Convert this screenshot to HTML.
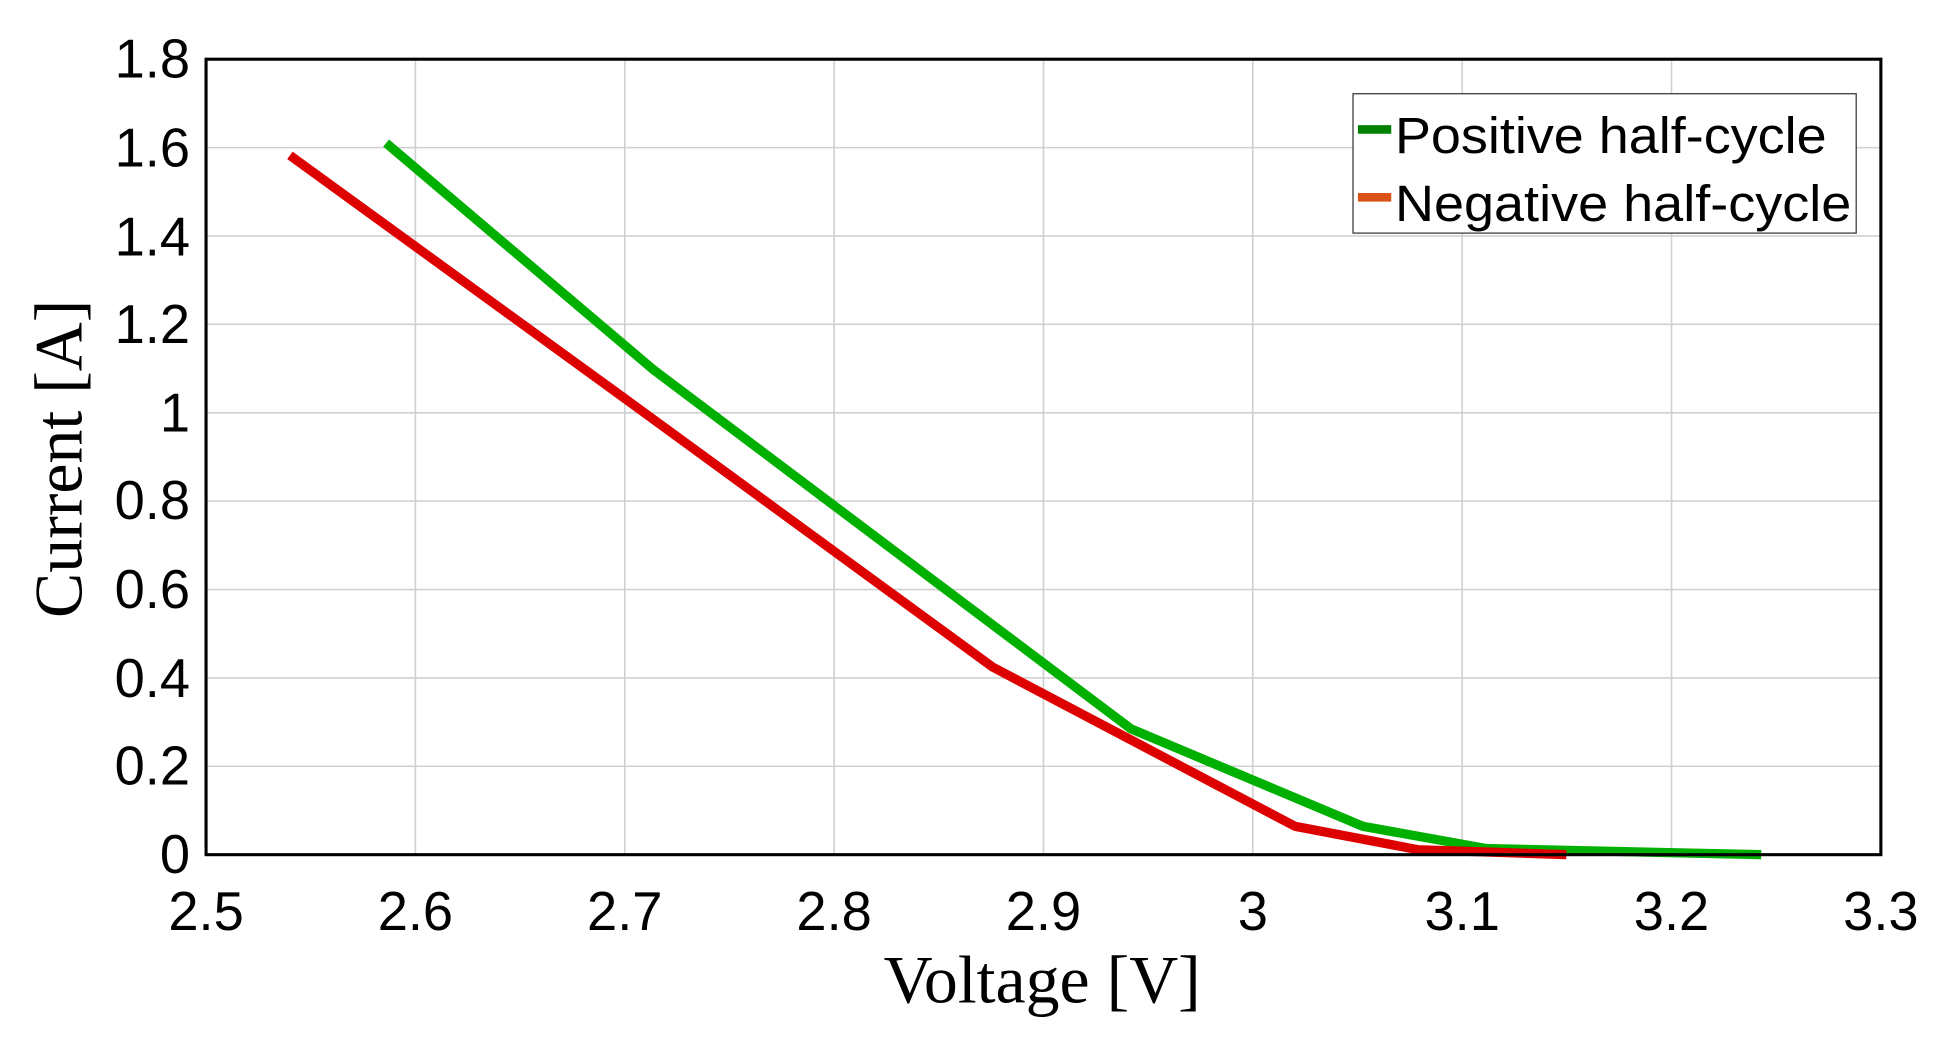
<!DOCTYPE html>
<html><head><style>html,body{margin:0;padding:0;background:#fff}svg{display:block}</style></head>
<body>
<svg width="1934" height="1052" viewBox="0 0 1568 853" xmlns="http://www.w3.org/2000/svg">
<rect width="1568" height="853" fill="#fff"/>
<g stroke="#d0d0d0" stroke-width="1.3">
<line x1="336.75" y1="48" x2="336.75" y2="693"/><line x1="506.5" y1="48" x2="506.5" y2="693"/>
<line x1="676.25" y1="48" x2="676.25" y2="693"/><line x1="846" y1="48" x2="846" y2="693"/>
<line x1="1015.75" y1="48" x2="1015.75" y2="693"/><line x1="1185.5" y1="48" x2="1185.5" y2="693"/>
<line x1="1355.25" y1="48" x2="1355.25" y2="693"/>
<line x1="167" y1="621.3" x2="1525" y2="621.3"/><line x1="167" y1="549.7" x2="1525" y2="549.7"/>
<line x1="167" y1="478" x2="1525" y2="478"/><line x1="167" y1="406.3" x2="1525" y2="406.3"/>
<line x1="167" y1="334.7" x2="1525" y2="334.7"/><line x1="167" y1="263" x2="1525" y2="263"/>
<line x1="167" y1="191.3" x2="1525" y2="191.3"/><line x1="167" y1="119.7" x2="1525" y2="119.7"/>
</g>
<polyline fill="none" stroke="#00b000" stroke-width="7.5" stroke-linejoin="round" points="313,116 530,300 917,591 1105,670 1205,688 1428,693"/>
<polyline fill="none" stroke="#dd0000" stroke-width="7.5" stroke-linejoin="round" points="235,126 505,322 805,541 1050,670 1150,689 1270,693"/>
<rect x="167" y="48" width="1358" height="645" fill="none" stroke="#000" stroke-width="2.5"/>
<g font-family="Liberation Sans, Arial, sans-serif" font-size="44" fill="#000">
<g text-anchor="end">
<text x="154" y="708">0</text><text x="154" y="636">0.2</text><text x="154" y="565">0.4</text>
<text x="154" y="493">0.6</text><text x="154" y="421">0.8</text><text x="154" y="350">1</text>
<text x="154" y="278">1.2</text><text x="154" y="207">1.4</text><text x="154" y="135">1.6</text>
<text x="154" y="63">1.8</text></g>
<g text-anchor="middle">
<text x="167" y="754">2.5</text><text x="336.75" y="754">2.6</text><text x="506.5" y="754">2.7</text>
<text x="676.25" y="754">2.8</text><text x="846" y="754">2.9</text><text x="1015.75" y="754">3</text>
<text x="1185.5" y="754">3.1</text><text x="1355.25" y="754">3.2</text><text x="1525" y="754">3.3</text></g>
</g>
<text x="845" y="813" text-anchor="middle" font-family="Liberation Serif, serif" font-size="55">Voltage [V]</text>
<text transform="translate(66,372) rotate(-90)" text-anchor="middle" font-family="Liberation Serif, serif" font-size="55">Current [A]</text>
<rect x="1097" y="76" width="408" height="113" fill="#fff" stroke="#333" stroke-width="1"/>
<line x1="1101" y1="105" x2="1128" y2="105" stroke="#008000" stroke-width="7"/>
<line x1="1101" y1="160" x2="1128" y2="160" stroke="#d95319" stroke-width="7"/>
<g font-family="Liberation Sans, Arial, sans-serif" font-size="41" fill="#000">
<text x="1131" y="124" textLength="350" lengthAdjust="spacingAndGlyphs">Positive half-cycle</text>
<text x="1131" y="179" textLength="370" lengthAdjust="spacingAndGlyphs">Negative half-cycle</text></g>
</svg>
</body></html>
